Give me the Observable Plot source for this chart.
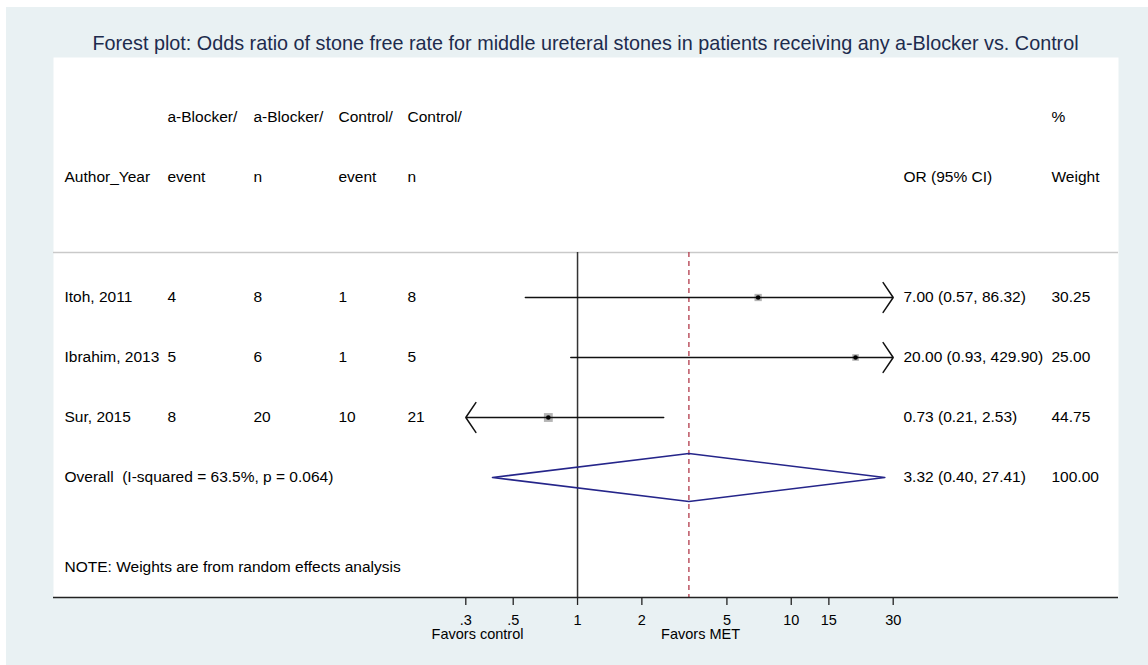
<!DOCTYPE html>
<html><head><meta charset="utf-8">
<script src="https://cdn.jsdelivr.net/npm/d3@7"></script>
<script src="https://cdn.jsdelivr.net/npm/@observablehq/plot@0.6"></script>
<style>
html,body{margin:0;padding:0;background:#fff;}
#wrap{position:absolute;left:6px;top:7px;width:1142px;height:658px;background:#e9f1f3;font-family:"Liberation Sans",Arial,sans-serif;}
#title{position:absolute;left:47px;width:1065px;top:24px;text-align:center;font-size:19.8px;color:#1d2b4d;white-space:nowrap;line-height:24px;}
#chart{position:absolute;left:0;top:50px;}
</style>
</head><body>
<div id="wrap">
  <div id="title">Forest plot: Odds ratio of stone free rate for middle ureteral stones in patients receiving any a-Blocker vs. Control</div>
  <div id="chart"></div>
</div>
<script>
// ---- data ----
const studies = ["Itoh, 2011", "Ibrahim, 2013", "Sur, 2015"];
const blockerEvent = [4, 5, 8];
const blockerN = [8, 6, 20];
const controlEvent = [1, 1, 10];
const controlN = [8, 5, 21];
const oddsRatio = [7.00, 20.00, 0.73];
const ciLow = [0.57, 0.93, 0.21];
const ciHigh = [86.32, 429.90, 2.53];
const weightPct = [30.25, 25.00, 44.75];

const overallLabel = "Overall  (I-squared = 63.5%, p = 0.064)";
const overallOR = 3.32;
const overallLow = 0.40;
const overallHigh = 27.41;
const overallWeight = 100.00;

const noteText = "NOTE: Weights are from random effects analysis";
const headerLine1 = ["", "a-Blocker/", "a-Blocker/", "Control/", "Control/", "", "%"];
const headerLine2 = ["Author_Year", "event", "n", "event", "n", "OR (95% CI)", "Weight"];
const xTicks = [0.3, 0.5, 1, 2, 5, 10, 15, 30];
const xTickLabels = [".3", ".5", "1", "2", "5", "10", "15", "30"];
const xClip = [0.3, 30];
const favorLabels = ["Favors control", "Favors MET"];

// ---- layout (styling only) ----
const colDx = [11, 114, 200, 285, 354, 850, 998];
const rowHeader1 = -3, rowHeader2 = -2, rowSep = -0.75, rowNote = 4.5, rowAxis = 5;
const f2 = d3.format(".2f");

const rows = studies.map((s, i) => ({
  row: i, label: s, be: blockerEvent[i], bn: blockerN[i], ce: controlEvent[i], cn: controlN[i],
  or: oddsRatio[i], lo: ciLow[i], hi: ciHigh[i], w: weightPct[i],
  loC: Math.max(ciLow[i], xClip[0]), hiC: Math.min(ciHigh[i], xClip[1])
}));
const overallRow = studies.length;

const cells = [];
headerLine1.forEach((t, c) => cells.push({row: rowHeader1, col: c, text: t}));
headerLine2.forEach((t, c) => cells.push({row: rowHeader2, col: c, text: t}));
rows.forEach(r => {
  [r.label, r.be, r.bn, r.ce, r.cn, `${f2(r.or)} (${f2(r.lo)}, ${f2(r.hi)})`, f2(r.w)]
    .forEach((t, c) => cells.push({row: r.row, col: c, text: String(t)}));
});
cells.push({row: overallRow, col: 0, text: overallLabel});
cells.push({row: overallRow, col: 5, text: `${f2(overallOR)} (${f2(overallLow)}, ${f2(overallHigh)})`});
cells.push({row: overallRow, col: 6, text: f2(overallWeight)});
cells.push({row: rowNote, col: 0, text: noteText});

const rightArrows = rows.filter(r => r.hi > xClip[1]);
const leftArrows = rows.filter(r => r.lo < xClip[0]);
const plainLines = rows.filter(r => r.hi <= xClip[1] && r.lo >= xClip[0]);

const dh = 0.4;
const diamond = [
  {x: overallLow, y: overallRow}, {x: overallOR, y: overallRow - dh},
  {x: overallHigh, y: overallRow}, {x: overallOR, y: overallRow + dh},
  {x: overallLow, y: overallRow}
];

const ticks = xTicks.map((v, i) => ({v, label: xTickLabels[i]}));

const W = 1142, H = 608;
const textMarks = colDx.map((dx, c) => Plot.text(cells.filter(d => d.col === c && d.text !== ""), {
  y: "row", text: "text", frameAnchor: "left", dx, textAnchor: "start", fontSize: 15.5, fill: "#000"
}));

const chart = Plot.plot({
  width: W, height: H,
  marginLeft: 47, marginRight: 30, marginTop: 0, marginBottom: 68,
  style: {background: "transparent", fontFamily: "'Liberation Sans', Arial, sans-serif", color: "#000", overflow: "visible"},
  x: {type: "log", domain: xClip, range: [459.3, 886.7], axis: null},
  y: {domain: [rowHeader1, rowAxis], range: [60, 540], axis: null},
  r: {type: "sqrt", domain: [0, d3.max(weightPct)], range: [0, 5]},
  marks: [
    Plot.frame({fill: "white", stroke: "none"}),
    Plot.ruleY([rowSep], {stroke: "#c9c9c9", strokeWidth: 1.6}),
    Plot.ruleX([1], {y1: rowSep, y2: rowAxis, stroke: "#333", strokeWidth: 1.5}),
    Plot.ruleX([overallOR], {y1: rowSep, y2: rowAxis, stroke: "#b23a4a", strokeWidth: 1.3, strokeDasharray: "5,4"}),
    Plot.dot(rows, {x: "or", y: "row", r: "w", symbol: "square", fill: "#b4b4b4"}),
    Plot.ruleY(plainLines, {x1: "loC", x2: "hiC", y: "row", stroke: "#111", strokeWidth: 1.5}),
    Plot.arrow(rightArrows, {x1: "loC", x2: "hiC", y1: "row", y2: "row", stroke: "#111", strokeWidth: 1.5, headAngle: 112, headLength: 18}),
    Plot.arrow(leftArrows, {x1: "hiC", x2: "loC", y1: "row", y2: "row", stroke: "#111", strokeWidth: 1.5, headAngle: 112, headLength: 18}),
    Plot.dot(rows, {x: "or", y: "row", r: 2.3, fill: "#000"}),
    Plot.line(diamond, {x: "x", y: "y", stroke: "#25258a", strokeWidth: 1.6}),
    ...textMarks,
    Plot.ruleY([rowAxis], {stroke: "#222", strokeWidth: 1.6}),
    Plot.axisX(xTicks, {anchor: "bottom", tickSize: 8, tickFormat: () => "", stroke: "#222", strokeWidth: 1.3}),
    Plot.text(ticks, {x: "v", y: rowAxis, text: "label", dy: 23, fontSize: 14.5, fill: "#000"}),
    Plot.text([favorLabels[0]], {x: 1, y: rowAxis, text: d => d, dx: -100, dy: 37, fontSize: 14.5, fill: "#000"}),
    Plot.text([favorLabels[1]], {x: 1, y: rowAxis, text: d => d, dx: 123, dy: 37, fontSize: 14.5, fill: "#000"})
  ]
});
document.getElementById("chart").appendChild(chart);
</script>
</body></html>
